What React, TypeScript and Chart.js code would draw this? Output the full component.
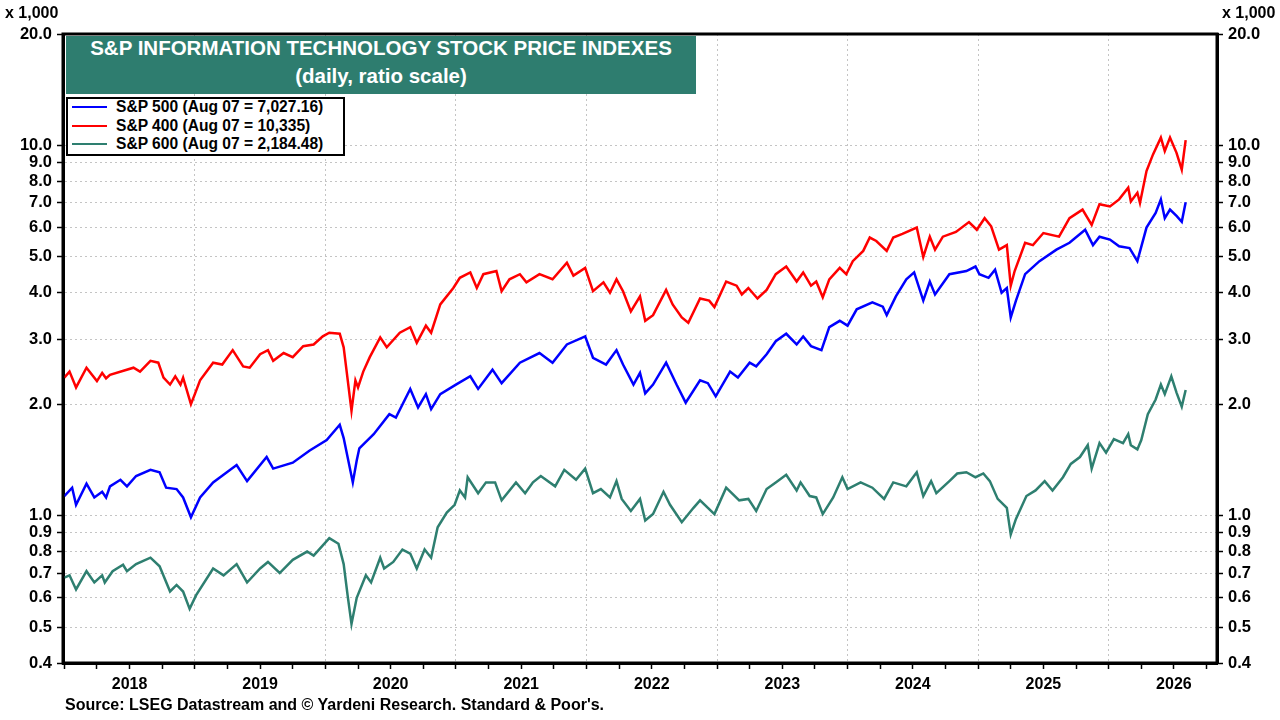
import React, { useEffect, useRef } from "react";
import { Chart, registerables } from "chart.js";

Chart.register(...registerables);

// ---------- data ----------
const yearLabels = ["2018", "2019", "2020", "2021", "2022", "2023", "2024", "2025", "2026"];
const yTickValues = [0.4, 0.5, 0.6, 0.7, 0.8, 0.9, 1, 2, 3, 4, 5, 6, 7, 8, 9, 10, 20];

const sp400Years = [
  2018.0, 2018.04, 2018.09, 2018.17, 2018.25, 2018.29, 2018.32, 2018.35, 2018.53, 2018.58,
  2018.66, 2018.72, 2018.76, 2018.81, 2018.85, 2018.89, 2018.91, 2018.97, 2019.0, 2019.04,
  2019.14, 2019.21, 2019.29, 2019.37, 2019.42, 2019.5, 2019.56, 2019.6, 2019.68, 2019.75,
  2019.83, 2019.91, 2019.98, 2020.03, 2020.11, 2020.14, 2020.16, 2020.2, 2020.23, 2020.25,
  2020.29, 2020.34, 2020.42, 2020.47, 2020.57, 2020.65, 2020.7, 2020.77, 2020.81, 2020.88,
  2020.98, 2021.03, 2021.11, 2021.16, 2021.21, 2021.31, 2021.35, 2021.41, 2021.49, 2021.54,
  2021.64, 2021.74, 2021.85, 2021.9, 2021.99, 2022.05, 2022.13, 2022.18, 2022.23, 2022.28,
  2022.34, 2022.41, 2022.45, 2022.51, 2022.61, 2022.66, 2022.73, 2022.78, 2022.87, 2022.94,
  2022.98, 2023.07, 2023.15, 2023.19, 2023.24, 2023.31, 2023.38, 2023.45, 2023.53, 2023.61,
  2023.66, 2023.72, 2023.76, 2023.81, 2023.86, 2023.94, 2023.99, 2024.04, 2024.12, 2024.17,
  2024.22, 2024.3, 2024.35, 2024.42, 2024.53, 2024.58, 2024.63, 2024.67, 2024.73, 2024.83,
  2024.93, 2024.99, 2025.05, 2025.1, 2025.16, 2025.22, 2025.25, 2025.28, 2025.36, 2025.42,
  2025.5, 2025.62, 2025.7, 2025.8, 2025.87, 2025.93, 2026.01, 2026.08, 2026.15, 2026.17,
  2026.22, 2026.24, 2026.29, 2026.34, 2026.4, 2026.43, 2026.47, 2026.52, 2026.56, 2026.59,
];
const sp400Values = [
  2.36, 2.45, 2.22, 2.51, 2.31, 2.43, 2.35, 2.4, 2.51, 2.45,
  2.62, 2.59, 2.36, 2.26, 2.38, 2.26, 2.36, 2.0, 2.13, 2.32,
  2.59, 2.56, 2.8, 2.53, 2.51, 2.73, 2.8, 2.62, 2.75, 2.68,
  2.87, 2.9, 3.05, 3.12, 3.1, 2.85, 2.5, 1.92, 2.32, 2.22,
  2.45, 2.68, 3.03, 2.85, 3.12, 3.23, 2.93, 3.26, 3.12, 3.72,
  4.12, 4.39, 4.54, 4.12, 4.49, 4.58, 4.04, 4.35, 4.49, 4.27,
  4.49, 4.35, 4.82, 4.45, 4.67, 4.04, 4.27, 4.0, 4.35, 4.04,
  3.56, 3.91, 3.36, 3.48, 4.07, 3.72, 3.43, 3.32, 3.86, 3.81,
  3.66, 4.29, 4.18, 3.96, 4.12, 3.86, 4.07, 4.49, 4.71, 4.29,
  4.54, 4.18, 4.29, 3.89, 4.35, 4.67, 4.49, 4.87, 5.19, 5.64,
  5.52, 5.19, 5.64, 5.77, 6.0, 5.0, 5.67, 5.23, 5.67, 5.84,
  6.21, 5.92, 6.36, 6.05, 5.23, 5.38, 4.18, 4.58, 5.46, 5.38,
  5.8, 5.67, 6.36, 6.71, 6.1, 6.94, 6.84, 7.15, 7.69, 7.06,
  7.45, 6.99, 8.53, 9.46, 10.5, 9.66, 10.5, 9.55, 8.6, 10.335,
];

const sp500Years = [
  2018.0, 2018.06, 2018.09, 2018.17, 2018.23, 2018.29, 2018.32, 2018.35, 2018.43, 2018.48,
  2018.55, 2018.66, 2018.73, 2018.78, 2018.86, 2018.91, 2018.97, 2019.04, 2019.14, 2019.32,
  2019.4, 2019.55, 2019.6, 2019.75, 2019.88, 2020.01, 2020.11, 2020.14, 2020.21, 2020.24,
  2020.26, 2020.37, 2020.49, 2020.54, 2020.65, 2020.71, 2020.77, 2020.81, 2020.88, 2021.0,
  2021.11, 2021.17, 2021.28, 2021.35, 2021.49, 2021.64, 2021.74, 2021.85, 2021.99, 2022.05,
  2022.15, 2022.23, 2022.28, 2022.36, 2022.41, 2022.45, 2022.51, 2022.61, 2022.69, 2022.76,
  2022.87, 2022.93, 2022.99, 2023.1, 2023.16, 2023.25, 2023.3, 2023.38, 2023.45, 2023.53,
  2023.61, 2023.66, 2023.72, 2023.8, 2023.86, 2023.94, 2024.0, 2024.07, 2024.19, 2024.27,
  2024.3, 2024.37, 2024.45, 2024.51, 2024.58, 2024.63, 2024.67, 2024.78, 2024.91, 2024.98,
  2025.01, 2025.08, 2025.13, 2025.18, 2025.22, 2025.25, 2025.29, 2025.36, 2025.47, 2025.6,
  2025.7, 2025.82, 2025.88, 2025.93, 2026.01, 2026.08, 2026.16, 2026.22, 2026.29, 2026.36,
  2026.4, 2026.43, 2026.47, 2026.52, 2026.56, 2026.59,
];
const sp500Values = [
  1.13, 1.19, 1.07, 1.22, 1.12, 1.16, 1.12, 1.2, 1.25, 1.2,
  1.28, 1.33, 1.31, 1.19, 1.18, 1.12, 0.99, 1.12, 1.23, 1.37,
  1.24, 1.44, 1.34, 1.39, 1.5, 1.6, 1.76, 1.62, 1.23, 1.41,
  1.52, 1.66, 1.88, 1.84, 2.2, 1.96, 2.13, 1.94, 2.13, 2.26,
  2.38, 2.2, 2.48, 2.28, 2.59, 2.75, 2.59, 2.9, 3.05, 2.67,
  2.56, 2.8, 2.56, 2.26, 2.43, 2.14, 2.26, 2.59, 2.26, 2.02,
  2.32, 2.28, 2.1, 2.45, 2.36, 2.59, 2.53, 2.73, 2.96, 3.1,
  2.9, 3.05, 2.87, 2.8, 3.23, 3.36, 3.26, 3.61, 3.77, 3.67,
  3.48, 3.91, 4.35, 4.54, 3.81, 4.29, 3.96, 4.49, 4.58, 4.71,
  4.49, 4.39, 4.62, 4.0, 4.12, 3.43, 3.81, 4.49, 4.87, 5.23,
  5.46, 5.92, 5.38, 5.67, 5.57, 5.34, 5.28, 4.87, 6.0, 6.57,
  7.15, 6.36, 6.71, 6.45, 6.22, 7.02716,
];

const sp600Years = [
  2018.0, 2018.04, 2018.09, 2018.17, 2018.23, 2018.29, 2018.31, 2018.37, 2018.45, 2018.48,
  2018.55, 2018.66, 2018.73, 2018.81, 2018.86, 2018.91, 2018.96, 2019.01, 2019.14, 2019.22,
  2019.32, 2019.4, 2019.5, 2019.56, 2019.65, 2019.75, 2019.86, 2019.91, 2020.03, 2020.1,
  2020.14, 2020.17, 2020.2, 2020.24, 2020.31, 2020.35, 2020.42, 2020.45, 2020.52, 2020.59,
  2020.65, 2020.7, 2020.76, 2020.81, 2020.86, 2020.93, 2020.99, 2021.03, 2021.07, 2021.09,
  2021.17, 2021.23, 2021.3, 2021.35, 2021.46, 2021.53, 2021.59, 2021.65, 2021.76, 2021.83,
  2021.92, 2021.99, 2022.05, 2022.11, 2022.18, 2022.23, 2022.27, 2022.34, 2022.41, 2022.45,
  2022.51, 2022.59, 2022.64, 2022.73, 2022.82, 2022.87, 2022.98, 2023.07, 2023.17, 2023.24,
  2023.3, 2023.38, 2023.45, 2023.53, 2023.61, 2023.64, 2023.71, 2023.76, 2023.81, 2023.89,
  2023.96, 2024.0, 2024.1, 2024.19, 2024.28, 2024.35, 2024.45, 2024.53, 2024.58, 2024.64,
  2024.68, 2024.78, 2024.84, 2024.91, 2024.98, 2025.04, 2025.09, 2025.15, 2025.22, 2025.25,
  2025.29, 2025.37, 2025.44, 2025.51, 2025.57, 2025.65, 2025.71, 2025.78, 2025.84, 2025.87,
  2025.93, 2025.98, 2026.04, 2026.11, 2026.15, 2026.17, 2026.22, 2026.25, 2026.3, 2026.36,
  2026.4, 2026.43, 2026.48, 2026.52, 2026.56, 2026.59,
];
const sp600Values = [
  0.68, 0.69, 0.632, 0.708, 0.66, 0.69, 0.66, 0.708, 0.737, 0.708,
  0.74, 0.77, 0.73, 0.624, 0.65, 0.624, 0.56, 0.61, 0.72, 0.69,
  0.74, 0.66, 0.72, 0.75, 0.7, 0.76, 0.8, 0.78, 0.87, 0.84,
  0.74, 0.61, 0.51, 0.6, 0.69, 0.66, 0.77, 0.72, 0.75, 0.81,
  0.79, 0.72, 0.81, 0.77, 0.93, 1.02, 1.07, 1.17, 1.12, 1.27,
  1.15, 1.23, 1.23, 1.1, 1.23, 1.15, 1.23, 1.28, 1.2, 1.33,
  1.25, 1.34, 1.15, 1.18, 1.12, 1.24, 1.11, 1.03, 1.11, 0.97,
  1.01, 1.16, 1.07, 0.96, 1.05, 1.1, 1.01, 1.19, 1.1, 1.11,
  1.03, 1.18, 1.23, 1.29, 1.17, 1.23, 1.13, 1.12, 1.01, 1.12,
  1.27, 1.18, 1.23, 1.19, 1.11, 1.23, 1.2, 1.31, 1.13, 1.24,
  1.15, 1.24, 1.3, 1.31, 1.27, 1.3, 1.24, 1.11, 1.05, 0.89,
  0.98, 1.13, 1.17, 1.24, 1.17, 1.27, 1.38, 1.44, 1.55, 1.34,
  1.57, 1.48, 1.61, 1.57, 1.66, 1.55, 1.51, 1.6, 1.88, 2.06,
  2.26, 2.13, 2.38, 2.15, 1.97, 2.18448,
];

const seriesNames = [
  "S&P 500 (Aug 07 = 7,027.16)",
  "S&P 400 (Aug 07 = 10,335)",
  "S&P 600 (Aug 07 = 2,184.48)",
];
const seriesColors = ["#0000ff", "#ff0000", "#2e7f70"];

const FONT = '"Liberation Sans", Arial, sans-serif';

const toPoints = (xs: number[], ys: number[]) => xs.map((x, i) => ({ x, y: ys[i] }));

const framePlugin = {
  id: "frame",
  afterDraw(chart: any) {
    const { ctx, chartArea } = chart;
    ctx.save();
    ctx.strokeStyle = "#000";
    ctx.lineWidth = 3;
    ctx.strokeRect(chartArea.left, chartArea.top, chartArea.right - chartArea.left, chartArea.bottom - chartArea.top);
    ctx.restore();
  },
};

export default function App() {
  const canvasRef = useRef<HTMLCanvasElement | null>(null);

  useEffect(() => {
    if (!canvasRef.current) return;
    const yAxisCommon = (pos: "left" | "right") => ({
      type: "logarithmic" as const,
      position: pos,
      min: 0.4,
      max: 20,
      afterBuildTicks: (scale: any) => {
        scale.ticks = yTickValues.map((v) => ({ value: v }));
      },
      afterFit: (scale: any) => {
        scale.width = 63;
      },
      ticks: {
        autoSkip: false,
        padding: 5,
        color: "#000",
        font: { family: FONT, size: 16.5, weight: "bold" as const },
        callback: (v: any) => Number(v).toFixed(1),
      },
      grid: {
        display: true,
        drawOnChartArea: pos === "left",
        color: "#c4c4c4",
        lineWidth: 1,
        tickColor: "#000",
        tickLength: 6,
        tickWidth: 1.5,
      },
      border: { display: true, color: "#000", width: 3, dash: [2, 3] },
    });

    const chart = new Chart(canvasRef.current, {
      type: "line",
      data: {
        datasets: [
          {
            label: seriesNames[2],
            data: toPoints(sp600Years, sp600Values),
            borderColor: seriesColors[2],
            borderWidth: 2.5,
            pointRadius: 0,
            tension: 0,
            yAxisID: "y",
          },
          {
            label: seriesNames[1],
            data: toPoints(sp400Years, sp400Values),
            borderColor: seriesColors[1],
            borderWidth: 2.5,
            pointRadius: 0,
            tension: 0,
            yAxisID: "y",
          },
          {
            label: seriesNames[0],
            data: toPoints(sp500Years, sp500Values),
            borderColor: seriesColors[0],
            borderWidth: 2.5,
            pointRadius: 0,
            tension: 0,
            yAxisID: "y",
          },
        ],
      },
      options: {
        animation: false,
        responsive: true,
        maintainAspectRatio: false,
        layout: { padding: { top: 34, left: 0, right: 0, bottom: 0 } },
        plugins: {
          legend: { display: false },
          tooltip: { enabled: false },
          title: { display: false },
        },
        scales: {
          x: {
            type: "linear",
            position: "bottom",
            min: 2017.99,
            max: 2026.83,
            afterBuildTicks: (scale: any) => {
              const t: any[] = [];
              yearLabels.forEach((yl) => {
                const y = Number(yl);
                [0, 0.25, 0.5, 0.75].forEach((q) => t.push({ value: y + q }));
              });
              scale.ticks = t;
            },
            afterFit: (scale: any) => {
              scale.height = 57;
            },
            ticks: {
              autoSkip: false,
              maxRotation: 0,
              minRotation: 0,
              padding: 6,
              color: "#000",
              font: { family: FONT, size: 16, weight: "bold" },
              callback: (v: any) => {
                const n = Number(v);
                const frac = n - Math.floor(n);
                return Math.abs(frac - 0.5) < 1e-6 ? String(Math.floor(n)) : "";
              },
            },
            grid: {
              display: true,
              drawOnChartArea: true,
              color: (ctx: any) => {
                const v = ctx.tick ? ctx.tick.value : 0;
                return Math.abs(v - Math.round(v)) < 1e-6 ? "#c4c4c4" : "rgba(0,0,0,0)";
              },
              tickColor: "#000",
              tickLength: 6,
              tickWidth: 1.5,
            },
            border: { display: true, color: "#000", width: 3, dash: [2, 3] },
          },
          y: yAxisCommon("left") as any,
          y2: yAxisCommon("right") as any,
        },
      },
      plugins: [framePlugin],
    });
    return () => chart.destroy();
  }, []);

  const textBold: React.CSSProperties = { fontFamily: FONT, fontWeight: "bold", color: "#000" };

  return (
    <div
      style={{
        position: "fixed",
        left: 0,
        top: 0,
        width: 1280,
        height: 720,
        background: "#fff",
        overflow: "hidden",
      }}
    >
      <div style={{ position: "absolute", left: 0, top: 0, width: 1280, height: 720 }}>
        <canvas ref={canvasRef} />
      </div>

      <div style={{ ...textBold, position: "absolute", left: 5, top: 4, fontSize: 16 }}>x 1,000</div>
      <div style={{ ...textBold, position: "absolute", left: 1222, top: 4, fontSize: 16 }}>x 1,000</div>

      <div
        style={{
          position: "absolute",
          left: 66,
          top: 36,
          width: 630,
          height: 58,
          background: "#2e7d6f",
          color: "#fff",
          fontFamily: FONT,
          fontWeight: "bold",
          fontSize: 20.5,
          textAlign: "center",
          lineHeight: "28px",
          paddingTop: 0,
          boxSizing: "border-box",
        }}
      >
        <div style={{ marginTop: -2 }}>S&amp;P INFORMATION TECHNOLOGY STOCK PRICE INDEXES</div>
        <div>(daily, ratio scale)</div>
      </div>

      <div
        style={{
          position: "absolute",
          left: 66,
          top: 97,
          width: 279,
          height: 59,
          border: "2px solid #000",
          background: "#fff",
          boxSizing: "border-box",
        }}
      >
        <div style={{ marginTop: -1 }}>
          {seriesNames.map((name, i) => (
            <div key={name} style={{ display: "flex", alignItems: "center", height: 18.5 }}>
              <div style={{ width: 35, height: 2, background: seriesColors[i], marginLeft: 4, marginRight: 9 }} />
              <div style={{ ...textBold, fontSize: 15.6, whiteSpace: "nowrap" }}>{name}</div>
            </div>
          ))}
        </div>
      </div>

      <div style={{ ...textBold, position: "absolute", left: 65, top: 696, fontSize: 16, whiteSpace: "nowrap" }}>
        Source: LSEG Datastream and © Yardeni Research. Standard &amp; Poor's.
      </div>
    </div>
  );
}
